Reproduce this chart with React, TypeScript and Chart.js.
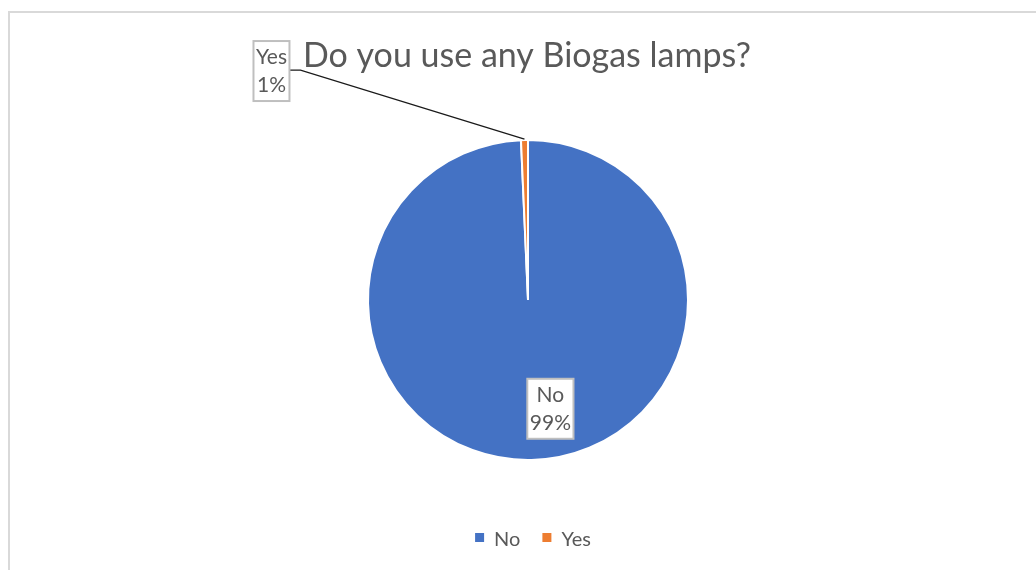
import React, { useEffect, useRef } from "react";
import { Chart, registerables } from "chart.js";

Chart.register(...registerables);

// ---- data ----
const chartTitle = "Do you use any Biogas lamps?";
const categories = ["No", "Yes"];
const shares = [99.3, 0.7];
const sliceColors = ["#4472C4", "#ED7D31"];

// ---- style ----
const FONT = "Lato, 'Open Sans', sans-serif";
const TEXT = "#595959";
const CANVAS_W = 1036;
const CANVAS_H = 557;

const excelDecor = {
  id: "excelDecor",
  afterDatasetsDraw(chart: any) {
    const ctx: CanvasRenderingContext2D = chart.ctx;
    const ds = chart.data.datasets[0];
    const data = ds.data as number[];
    const total = data.reduce((a, b) => a + b, 0);
    const meta = chart.getDatasetMeta(0);
    const area = chart.chartArea;
    const cx = (area.left + area.right) / 2;

    ctx.save();
    // title
    ctx.fillStyle = TEXT;
    ctx.font = `34px ${FONT}`;
    ctx.textAlign = "center";
    ctx.textBaseline = "alphabetic";
    ctx.fillText(chartTitle, cx - 1, 54);

    // data labels
    ctx.font = `21px ${FONT}`;
    const lineH = 28;
    meta.data.forEach((arc: any, i: number) => {
      const p = arc.getProps(["x", "y", "startAngle", "endAngle", "outerRadius"], true);
      const mid = (p.startAngle + p.endAngle) / 2;
      const frac = data[i] / total;
      const lines = [String(chart.data.labels[i]), Math.round(frac * 100) + "%"];
      const tw = Math.max(...lines.map((l) => ctx.measureText(l).width));
      const bw = tw + 5;
      const bh = lines.length * lineH + 4;
      let bx: number, by: number;
      if (frac > 0.05) {
        bx = p.x + Math.cos(mid) * p.outerRadius * 0.68 + 20;
        by = p.y + Math.sin(mid) * p.outerRadius * 0.68;
      } else {
        const ox = p.x + Math.cos(mid) * p.outerRadius;
        const oy = p.y + Math.sin(mid) * p.outerRadius;
        bx = ox - 253;
        by = oy - 69;
        // leader line
        ctx.strokeStyle = "#1a1a1a";
        ctx.lineWidth = 1.3;
        ctx.beginPath();
        ctx.moveTo(bx + bw / 2, by - 1);
        ctx.lineTo(bx + bw / 2 + 11, by - 1);
        ctx.lineTo(ox, oy - 1);
        ctx.stroke();
      }
      ctx.fillStyle = "#ffffff";
      ctx.fillRect(bx - bw / 2, by - bh / 2, bw, bh);
      ctx.strokeStyle = "#bfbfbf";
      ctx.lineWidth = 2;
      ctx.strokeRect(bx - bw / 2, by - bh / 2, bw, bh);
      ctx.fillStyle = TEXT;
      ctx.textAlign = "center";
      ctx.textBaseline = "middle";
      lines.forEach((l, k) => {
        ctx.fillText(l, bx, by + (k - (lines.length - 1) / 2) * lineH);
      });
    });

    // legend
    ctx.font = `20px ${FONT}`;
    ctx.textBaseline = "alphabetic";
    ctx.textAlign = "left";
    const sq = 9;
    const gapSq = 10;
    const gapItem = 22;
    const labels = chart.data.labels as string[];
    const widths = labels.map((l) => sq + gapSq + ctx.measureText(l).width);
    const totalW = widths.reduce((a, b) => a + b, 0) + gapItem * (labels.length - 1);
    let x = cx - totalW / 2 + 5;
    const baseY = 533;
    labels.forEach((l, i) => {
      ctx.fillStyle = (ds.backgroundColor as string[])[i];
      ctx.fillRect(x, baseY - 13, sq, sq);
      ctx.fillStyle = TEXT;
      ctx.fillText(l, x + sq + gapSq, baseY);
      x += widths[i] + gapItem;
    });
    ctx.restore();
  },
};

export default function App() {
  const ref = useRef<HTMLCanvasElement | null>(null);

  useEffect(() => {
    if (!ref.current) return;
    const chart = new Chart(ref.current, {
      type: "pie",
      data: {
        labels: categories,
        datasets: [
          {
            data: shares,
            backgroundColor: sliceColors,
            borderColor: "#ffffff",
            borderWidth: 2,
          },
        ],
      },
      options: {
        responsive: false,
        animation: false,
        devicePixelRatio: 1,
        layout: { padding: { top: 126, bottom: 109, left: 0, right: 0 } },
        plugins: {
          legend: { display: false },
          title: { display: false },
          tooltip: { enabled: false },
        },
      },
      plugins: [excelDecor],
    });
    return () => chart.destroy();
  }, []);

  return (
    <div style={{ position: "fixed", left: 0, top: 0, width: 1036, height: 570, overflow: "hidden", background: "#ffffff" }}>
      <div
        style={{
          position: "absolute",
          left: 8,
          top: 11,
          width: 1040,
          height: 600,
          border: "2px solid #d9d9d9",
          boxSizing: "border-box",
        }}
      >
        <canvas ref={ref} width={CANVAS_W} height={CANVAS_H} style={{ display: "block" }} />
      </div>
    </div>
  );
}
